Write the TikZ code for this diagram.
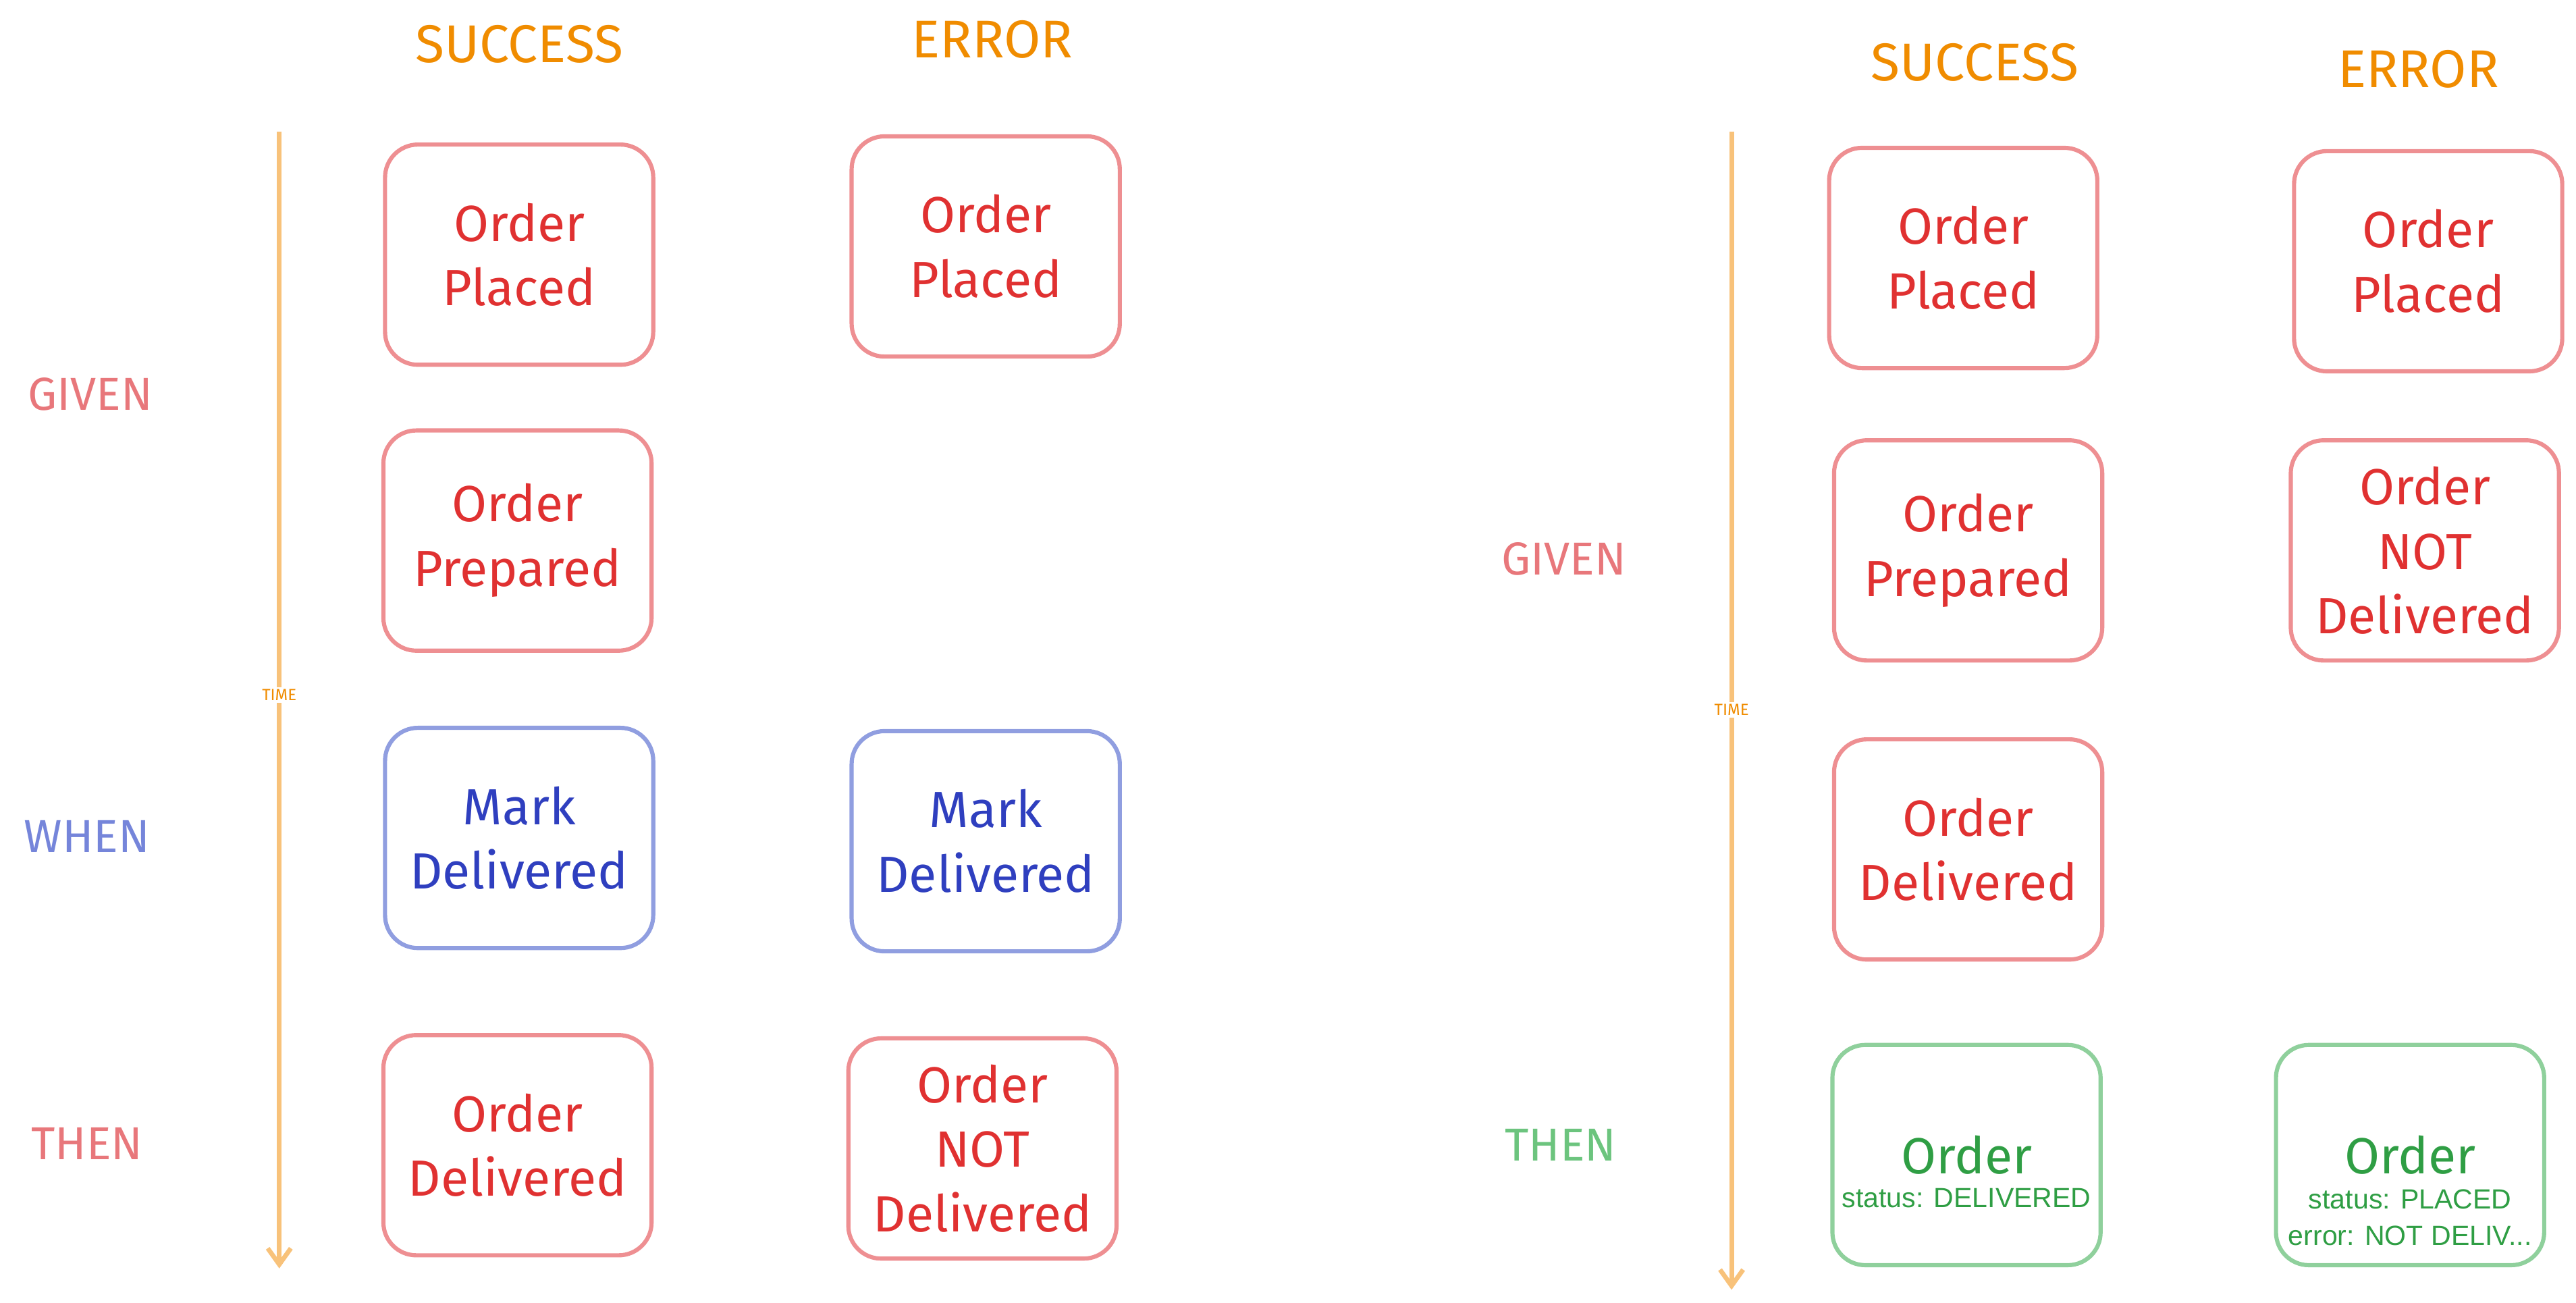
\documentclass[tikz,border=0pt]{standalone}
\usepackage{fontspec}
\usetikzlibrary{arrows.meta}
\setmainfont{Fira Sans}
\newfontfamily\plain{Liberation Sans}
\definecolor{rtxt}{HTML}{E03131}
\definecolor{rbox}{HTML}{EE8F92}
\definecolor{btxt}{HTML}{2F3FBF}
\definecolor{bbox}{HTML}{909EE0}
\definecolor{gtxt}{HTML}{2F9E44}
\definecolor{gbox}{HTML}{8FD09C}
\definecolor{otxt}{HTML}{F08C00}
\definecolor{arr}{HTML}{F8C27A}
\definecolor{glab}{HTML}{E8777B}
\definecolor{wlab}{HTML}{7585DA}
\definecolor{tlab}{HTML}{6CC47E}
\begin{document}
\begin{tikzpicture}[x=0.025cm,y=-0.025cm,
 box/.style={draw=#1,line width=1.8pt,rounded corners=0.5cm,minimum width=4.08cm,minimum height=3.35cm,align=center,font=\fontsize{22}{28}\selectfont},
 hdr/.style={text=otxt,font=\fontsize{23}{26}\selectfont},
 lab/.style={font=\fontsize{20}{24}\selectfont},
 tl/.style={draw=arr,line width=2pt,-{Straight Barb[length=7pt,width=10pt]}},
 tim/.style={text=otxt,font=\fontsize{7}{8}\selectfont,fill=white,inner sep=1pt},
 big/.style={text=gtxt,font=\fontsize{22}{28}\selectfont},
 sm/.style={text=gtxt,font=\plain\fontsize{12}{14}\selectfont,align=center}]
\useasboundingbox (0,0) rectangle (1568,793);
% left panel
\node[hdr] (s1) at (316,27) {SUCCESS};
\node[hdr] (e1) at (604,24) {ERROR};
\coordinate (ta) at (170,80); \coordinate (tb) at (170,772);
\draw[tl] (ta) -- (tb);
\node[tim] (t1) at (170,423) {TIME};
\node[lab,text=glab] (g1) at (55,240) {GIVEN};
\node[lab,text=wlab] (w1) at (53,509) {WHEN};
\node[lab,text=glab] (th1) at (53,696) {THEN};
\node[box=rbox,text=rtxt] (a1) at (316,155) {Order\\Placed};
\node[box=rbox,text=rtxt] (a2) at (315,329) {Order\\Prepared};
\node[box=bbox,text=btxt] (a3) at (316,510) {Mark\\Delivered};
\node[box=rbox,text=rtxt] (a4) at (315,697) {Order\\Delivered};
\node[box=rbox,text=rtxt] (b1) at (600,150) {Order\\Placed};
\node[box=bbox,text=btxt] (b3) at (600,512) {Mark\\Delivered};
\node[box=rbox,text=rtxt] (b4) at (598,699) {Order\\NOT\\Delivered};
% right panel
\node[hdr] (s2) at (1202,38) {SUCCESS};
\node[hdr] (e2) at (1472,42) {ERROR};
\coordinate (tc) at (1054,80); \coordinate (td) at (1054,785);
\draw[tl] (tc) -- (td);
\node[tim] (t2) at (1054,432) {TIME};
\node[lab,text=glab] (g2) at (952,340) {GIVEN};
\node[lab,text=tlab] (th2) at (950,697) {THEN};
\node[box=rbox,text=rtxt] (c1) at (1195,157) {Order\\Placed};
\node[box=rbox,text=rtxt] (c2) at (1198,335) {Order\\Prepared};
\node[box=rbox,text=rtxt] (c3) at (1198,517) {Order\\Delivered};
\node[box=gbox] (c4) at (1197,703) {};
\node[big] (c4a) at (1197,703) {Order};
\node[sm] (c4b) at (1197,729) {status: DELIVERED};
\node[box=rbox,text=rtxt] (d1) at (1478,159) {Order\\Placed};
\node[box=rbox,text=rtxt] (d2) at (1476,335) {Order\\NOT\\Delivered};
\node[box=gbox] (d4) at (1467,703) {};
\node[big] (d4a) at (1467,703) {Order};
\node[sm] (d4b) at (1467,730) {status: PLACED};
\node[sm] (d4c) at (1467,752) {error: NOT DELIV...};
\end{tikzpicture}
\end{document}
